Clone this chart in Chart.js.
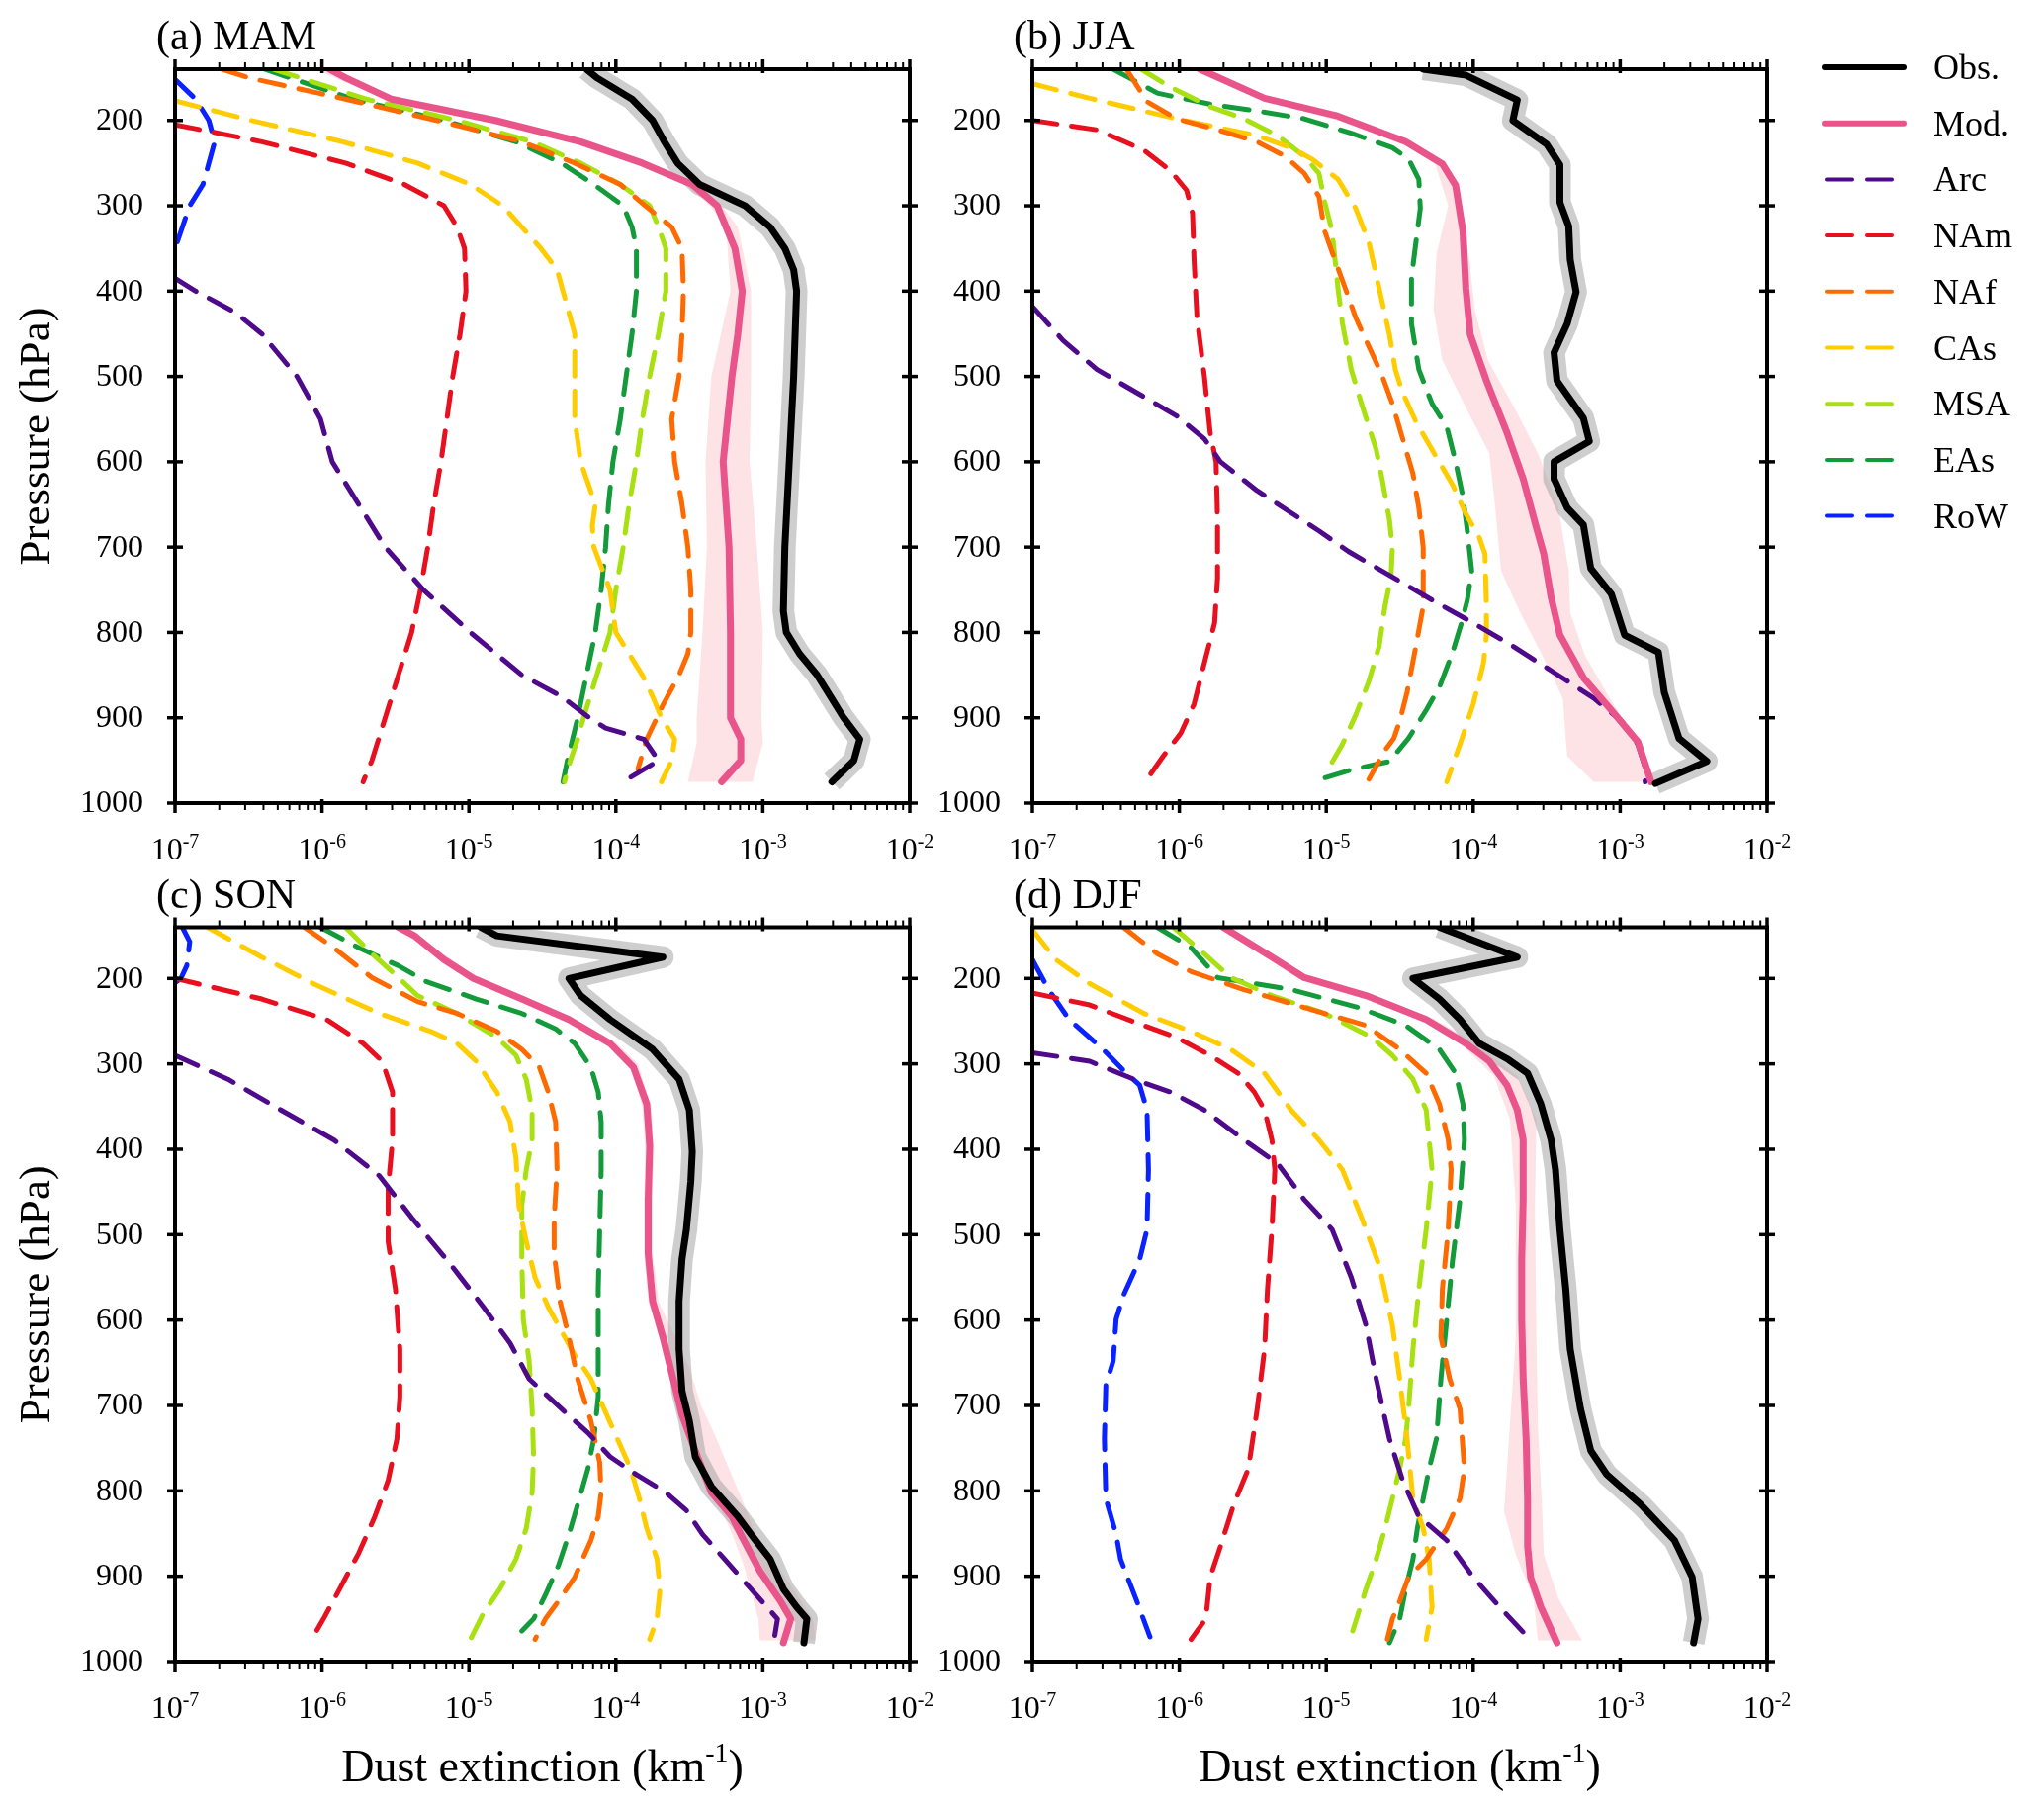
<!DOCTYPE html>
<html>
<head>
<meta charset="utf-8">
<script src="https://cdn.jsdelivr.net/npm/chart.js@4.4.1/dist/chart.umd.min.js"></script>
<style>
  html, body { margin: 0; padding: 0; background: #fff; }
  body { width: 2067px; height: 1829px; position: relative; overflow: hidden; }
  canvas { position: absolute; }
  #legend { position: absolute; left: 0; top: 0; }
</style>
</head>
<body>
<canvas id="mam" width="1000" height="870" style="left:0;top:0"></canvas>
<canvas id="jja" width="900" height="870" style="left:940px;top:0"></canvas>
<canvas id="son" width="1000" height="959" style="left:0;top:870px"></canvas>
<canvas id="djf" width="900" height="959" style="left:940px;top:870px"></canvas>
<svg id="legend" width="2067" height="600"></svg>
<script>
// every profile point is [pressure (hPa), log10 of dust extinction (km-1)]
// band points are [pressure, log10 lower edge, log10 upper edge]

const sourceNames = ["Arc", "NAm", "NAf", "CAs", "MSA", "EAs", "RoW"];
const xTickExponents = [-7, -6, -5, -4, -3, -2];
const pressureTicks = [200, 300, 400, 500, 600, 700, 800, 900, 1000];

// (a) MAM
const mamObs = [[140,-4.20],[150,-4.13],[175,-3.89],[200,-3.75],[225,-3.67],[250,-3.58],[275,-3.43],[300,-3.12],[325,-2.95],[350,-2.85],[375,-2.79],[400,-2.77],[500,-2.79],[600,-2.82],[700,-2.85],[775,-2.86],[800,-2.84],[825,-2.75],[850,-2.63],[875,-2.54],[900,-2.45],[925,-2.34],[950,-2.38],[975,-2.53]];
const mamMod = [[140,-5.95],[150,-5.84],[175,-5.53],[200,-4.82],[225,-4.24],[250,-3.82],[275,-3.48],[300,-3.31],[350,-3.19],[400,-3.14],[450,-3.17],[500,-3.21],[600,-3.27],[700,-3.23],[800,-3.22],[900,-3.22],[925,-3.15],[950,-3.15],[975,-3.28]];
const mamModRange = [[140,-6.05,-5.93],[175,-5.57,-5.48],[200,-4.86,-4.77],[225,-4.28,-4.20],[250,-3.88,-3.79],[275,-3.53,-3.44],[300,-3.36,-3.28],[325,-3.25,-3.17],[400,-3.22,-3.08],[500,-3.35,-3.08],[600,-3.39,-3.09],[700,-3.38,-3.04],[800,-3.41,-3.00],[900,-3.45,-3.01],[930,-3.45,-3.00],[975,-3.51,-3.07]];
const mamArc = [[385,-7],[400,-6.86],[425,-6.59],[450,-6.41],[500,-6.17],[550,-6.01],[600,-5.93],[650,-5.75],[700,-5.57],[750,-5.31],[800,-4.99],[850,-4.64],[875,-4.37],[900,-4.18],[912,-4.07],[925,-3.81],[950,-3.71],[975,-3.95]];
const mamNAm = [[205,-7],[225,-6.41],[250,-5.84],[275,-5.44],[300,-5.17],[325,-5.08],[350,-5.03],[400,-5.02],[450,-5.06],[500,-5.11],[550,-5.15],[600,-5.19],[650,-5.24],[700,-5.28],[750,-5.33],[800,-5.39],[850,-5.48],[900,-5.57],[950,-5.66],[975,-5.72]];
const mamNAf = [[140,-6.68],[150,-6.50],[175,-5.84],[200,-5.22],[225,-4.64],[250,-4.28],[275,-3.97],[300,-3.80],[325,-3.62],[350,-3.55],[400,-3.54],[450,-3.55],[500,-3.57],[550,-3.62],[600,-3.60],[650,-3.55],[700,-3.51],[750,-3.49],[800,-3.49],[825,-3.51],[850,-3.57],[885,-3.68],[925,-3.79],[960,-3.85]];
const mamCAs = [[177,-7],[200,-6.48],[225,-5.86],[250,-5.35],[275,-4.99],[300,-4.77],[325,-4.64],[350,-4.51],[375,-4.40],[400,-4.36],[450,-4.28],[550,-4.28],[600,-4.24],[650,-4.14],[675,-4.16],[700,-4.15],[750,-4.04],[800,-4.00],[825,-3.91],[850,-3.82],[875,-3.75],[900,-3.69],[925,-3.60],[950,-3.62],[975,-3.69]];
const mamMSA = [[140,-6.33],[175,-5.70],[200,-5.08],[225,-4.57],[250,-4.24],[275,-3.97],[300,-3.77],[325,-3.71],[350,-3.66],[400,-3.66],[450,-3.71],[500,-3.77],[550,-3.82],[600,-3.86],[650,-3.91],[700,-3.95],[750,-4.00],[800,-4.04],[850,-4.13],[900,-4.22],[925,-4.26],[950,-4.31],[975,-4.35]];
const mamEAs = [[140,-6.39],[175,-5.79],[200,-5.17],[225,-4.68],[250,-4.37],[275,-4.15],[300,-3.95],[325,-3.89],[350,-3.86],[400,-3.86],[450,-3.89],[500,-3.93],[550,-3.97],[600,-4.02],[650,-4.05],[700,-4.07],[750,-4.10],[800,-4.14],[850,-4.20],[900,-4.26],[950,-4.33],[975,-4.36]];
const mamRoW = [[152,-7],[175,-6.86],[200,-6.77],[225,-6.73],[250,-6.77],[275,-6.81],[300,-6.90],[335,-6.97],[350,-7]];

// (b) JJA
const jjaObs = [[140,-4.34],[147,-4.05],[176,-3.70],[200,-3.73],[228,-3.50],[252,-3.41],[296,-3.41],[324,-3.35],[363,-3.34],[401,-3.30],[438,-3.36],[472,-3.45],[505,-3.43],[549,-3.25],[576,-3.21],[600,-3.45],[620,-3.45],[654,-3.36],[674,-3.25],[725,-3.20],[755,-3.06],[803,-2.97],[823,-2.74],[870,-2.70],[924,-2.60],[951,-2.41],[977,-2.76]];
const jjaMod = [[140,-5.86],[174,-5.42],[195,-4.92],[225,-4.46],[251,-4.21],[276,-4.12],[330,-4.07],[397,-4.05],[451,-4.02],[505,-3.91],[566,-3.77],[620,-3.66],[671,-3.58],[708,-3.52],[759,-3.47],[803,-3.41],[853,-3.25],[891,-3.06],[928,-2.88],[975,-2.79]];
const jjaModRange = [[140,-5.87,-5.84],[175,-5.45,-5.38],[200,-4.92,-4.84],[225,-4.50,-4.42],[250,-4.26,-4.18],[300,-4.17,-4.09],[357,-4.25,-4.03],[421,-4.27,-3.99],[481,-4.21,-3.90],[540,-4.04,-3.71],[590,-3.89,-3.56],[654,-3.85,-3.42],[728,-3.81,-3.35],[777,-3.68,-3.34],[827,-3.53,-3.24],[877,-3.39,-3.07],[926,-3.37,-2.90],[945,-3.36,-2.85],[975,-3.18,-2.79]];
const jjaArc = [[418,-7],[458,-6.79],[492,-6.56],[519,-6.29],[546,-6.02],[573,-5.83],[600,-5.72],[634,-5.47],[681,-5.05],[705,-4.85],[735,-4.55],[762,-4.28],[789,-4.00],[816,-3.73],[847,-3.45],[877,-3.18],[904,-2.99],[931,-2.88],[958,-2.83],[975,-2.83]];
const jjaNAm = [[200,-7],[211,-6.56],[235,-6.24],[259,-6.06],[282,-5.95],[309,-5.91],[363,-5.90],[431,-5.88],[499,-5.83],[566,-5.79],[600,-5.75],[668,-5.74],[736,-5.74],[789,-5.76],[836,-5.83],[884,-5.90],[918,-5.99],[945,-6.11],[972,-6.22]];
const jjaNAf = [[140,-6.36],[178,-6.22],[198,-6.02],[211,-5.74],[225,-5.47],[242,-5.28],[262,-5.15],[289,-5.05],[330,-5.01],[364,-4.94],[397,-4.87],[431,-4.80],[465,-4.71],[499,-4.62],[532,-4.55],[573,-4.48],[614,-4.41],[654,-4.37],[701,-4.34],[769,-4.34],[816,-4.39],[870,-4.45],[904,-4.50],[924,-4.54],[938,-4.60],[972,-4.71]];
const jjaCAs = [[157,-7],[174,-6.61],[198,-6.02],[218,-5.47],[232,-5.24],[245,-5.10],[269,-4.92],[303,-4.80],[343,-4.71],[397,-4.64],[451,-4.57],[492,-4.53],[519,-4.48],[553,-4.39],[586,-4.28],[627,-4.14],[661,-4.05],[688,-3.96],[708,-3.92],[769,-3.91],[803,-3.91],[836,-3.93],[884,-4.00],[931,-4.09],[975,-4.18]];
const jjaMSA = [[140,-6.26],[161,-6.06],[184,-5.79],[198,-5.56],[218,-5.33],[242,-5.15],[262,-5.05],[296,-5.01],[330,-4.96],[364,-4.94],[397,-4.92],[438,-4.89],[492,-4.83],[532,-4.76],[559,-4.71],[586,-4.66],[620,-4.62],[668,-4.57],[701,-4.55],[735,-4.56],[769,-4.60],[816,-4.64],[857,-4.71],[897,-4.80],[931,-4.89],[961,-4.99]];
const jjaEAs = [[140,-6.45],[168,-6.15],[181,-5.79],[189,-5.47],[198,-5.15],[215,-4.83],[232,-4.55],[245,-4.44],[269,-4.37],[303,-4.36],[343,-4.39],[384,-4.42],[438,-4.42],[492,-4.37],[532,-4.28],[559,-4.18],[600,-4.12],[641,-4.07],[681,-4.04],[728,-4.01],[762,-4.04],[789,-4.08],[823,-4.14],[864,-4.23],[891,-4.32],[924,-4.44],[951,-4.57],[961,-4.83],[975,-5.10]];
const jjaRoW = [];

// (c) SON
const sonObs = [[140,-4.92],[150,-4.81],[175,-3.68],[200,-4.32],[220,-4.24],[248,-4.04],[283,-3.75],[318,-3.57],[354,-3.50],[403,-3.48],[438,-3.49],[494,-3.52],[529,-3.55],[578,-3.57],[634,-3.57],[683,-3.55],[718,-3.50],[760,-3.46],[795,-3.35],[830,-3.17],[851,-3.08],[880,-2.95],[915,-2.86],[936,-2.77],[950,-2.70],[978,-2.72]];
const sonMod = [[140,-5.48],[150,-5.37],[178,-5.17],[200,-4.97],[224,-4.64],[248,-4.32],[276,-4.04],[304,-3.88],[347,-3.79],[396,-3.77],[459,-3.78],[522,-3.78],[578,-3.75],[620,-3.68],[669,-3.61],[711,-3.55],[753,-3.46],[802,-3.35],[830,-3.21],[851,-3.15],[894,-3.02],[929,-2.88],[950,-2.81],[978,-2.86]];
const sonModRange = [[140,-5.50,-5.46],[175,-5.20,-5.14],[200,-4.99,-4.94],[225,-4.67,-4.61],[250,-4.35,-4.29],[275,-4.07,-4.00],[300,-3.91,-3.85],[350,-3.82,-3.76],[400,-3.80,-3.74],[460,-3.81,-3.75],[520,-3.81,-3.75],[578,-3.78,-3.71],[618,-3.71,-3.60],[656,-3.63,-3.50],[700,-3.54,-3.42],[733,-3.47,-3.33],[811,-3.31,-3.14],[850,-3.21,-3.05],[887,-3.13,-2.90],[950,-3.03,-2.66],[975,-3.02,-2.64]];
const sonArc = [[290,-7],[318,-6.64],[354,-6.28],[389,-5.92],[431,-5.61],[480,-5.39],[536,-5.12],[585,-4.90],[627,-4.72],[669,-4.59],[704,-4.37],[732,-4.19],[760,-4.04],[781,-3.86],[802,-3.66],[823,-3.52],[851,-3.41],[880,-3.26],[915,-3.08],[950,-2.90],[971,-2.92]];
const sonNAm = [[200,-7],[224,-6.41],[248,-5.97],[276,-5.72],[297,-5.59],[333,-5.52],[389,-5.52],[445,-5.55],[508,-5.55],[564,-5.50],[634,-5.47],[690,-5.47],[739,-5.49],[788,-5.55],[830,-5.64],[873,-5.75],[915,-5.88],[950,-5.99],[971,-6.06]];
const sonNAf = [[140,-6.12],[164,-5.92],[199,-5.66],[227,-5.35],[241,-5.08],[262,-4.81],[283,-4.64],[304,-4.52],[333,-4.46],[368,-4.41],[424,-4.40],[480,-4.42],[522,-4.42],[578,-4.38],[620,-4.32],[669,-4.26],[718,-4.17],[767,-4.11],[802,-4.10],[830,-4.12],[858,-4.17],[901,-4.28],[929,-4.39],[950,-4.48],[974,-4.55]];
const sonCAs = [[140,-6.78],[175,-6.41],[206,-6.06],[241,-5.61],[262,-5.26],[276,-5.08],[297,-4.95],[333,-4.81],[368,-4.72],[410,-4.68],[466,-4.66],[508,-4.61],[550,-4.55],[585,-4.46],[613,-4.37],[641,-4.28],[669,-4.17],[704,-4.08],[739,-3.99],[774,-3.90],[809,-3.84],[844,-3.79],[880,-3.72],[915,-3.70],[950,-3.72],[974,-3.77]];
const sonMSA = [[140,-5.84],[171,-5.66],[199,-5.48],[220,-5.35],[241,-5.08],[269,-4.81],[290,-4.68],[318,-4.61],[354,-4.57],[389,-4.57],[424,-4.61],[466,-4.64],[529,-4.64],[599,-4.63],[648,-4.59],[704,-4.57],[760,-4.56],[802,-4.57],[844,-4.61],[880,-4.68],[915,-4.79],[943,-4.90],[974,-4.99]];
const sonEAs = [[140,-6.01],[164,-5.75],[185,-5.48],[203,-5.30],[224,-4.95],[241,-4.64],[259,-4.41],[276,-4.28],[304,-4.17],[333,-4.12],[368,-4.10],[424,-4.10],[494,-4.11],[564,-4.12],[634,-4.12],[690,-4.12],[739,-4.15],[774,-4.19],[816,-4.26],[851,-4.32],[887,-4.39],[922,-4.48],[950,-4.56],[964,-4.64]];
const sonRoW = [[140,-6.95],[157,-6.90],[185,-6.92],[200,-6.96],[205,-7]];

// (d) DJF
const djfObs = [[140,-4.23],[175,-3.70],[200,-4.41],[224,-4.23],[248,-4.09],[276,-3.96],[294,-3.77],[311,-3.63],[347,-3.54],[389,-3.47],[424,-3.44],[494,-3.41],[564,-3.37],[634,-3.34],[704,-3.27],[753,-3.20],[781,-3.09],[816,-2.86],[858,-2.63],[901,-2.51],[950,-2.47],[978,-2.50]];
const djfMod = [[140,-5.70],[175,-5.37],[199,-5.15],[220,-4.73],[248,-4.32],[276,-4.05],[297,-3.89],[325,-3.77],[354,-3.70],[389,-3.66],[459,-3.66],[529,-3.67],[599,-3.67],[669,-3.66],[739,-3.64],[809,-3.63],[865,-3.63],[901,-3.61],[936,-3.54],[978,-3.43]];
const djfModRange = [[140,-5.74,-5.66],[175,-5.41,-5.33],[200,-5.19,-5.10],[220,-4.77,-4.68],[248,-4.36,-4.26],[276,-4.09,-3.98],[314,-3.86,-3.70],[365,-3.75,-3.57],[467,-3.71,-3.58],[620,-3.71,-3.57],[722,-3.75,-3.56],[824,-3.79,-3.53],[875,-3.71,-3.52],[926,-3.59,-3.42],[975,-3.56,-3.26]];
const djfArc = [[287,-7],[297,-6.61],[318,-6.31],[333,-6.06],[354,-5.83],[389,-5.56],[417,-5.33],[459,-5.15],[494,-4.96],[550,-4.83],[606,-4.73],[669,-4.66],[739,-4.57],[788,-4.48],[830,-4.37],[858,-4.18],[901,-4.00],[936,-3.82],[971,-3.63]];
const djfNAm = [[217,-7],[231,-6.61],[252,-6.29],[269,-6.02],[290,-5.79],[311,-5.60],[333,-5.49],[354,-5.42],[389,-5.37],[424,-5.35],[494,-5.37],[564,-5.40],[634,-5.42],[704,-5.47],[774,-5.53],[816,-5.63],[865,-5.72],[901,-5.79],[950,-5.82],[974,-5.92]];
const djfNAf = [[140,-6.38],[171,-6.15],[192,-5.92],[213,-5.56],[234,-5.15],[255,-4.73],[283,-4.50],[311,-4.32],[347,-4.23],[389,-4.17],[424,-4.15],[494,-4.17],[564,-4.21],[620,-4.22],[669,-4.16],[704,-4.09],[774,-4.06],[809,-4.09],[844,-4.18],[880,-4.32],[901,-4.44],[929,-4.50],[950,-4.55],[978,-4.59]];
const djfCAs = [[143,-7],[178,-6.84],[206,-6.61],[241,-6.24],[262,-5.92],[283,-5.65],[311,-5.42],[354,-5.24],[389,-5.05],[424,-4.89],[480,-4.76],[536,-4.64],[606,-4.55],[669,-4.50],[739,-4.45],[809,-4.41],[844,-4.34],[880,-4.30],[936,-4.28],[974,-4.32]];
const djfMSA = [[140,-6.04],[171,-5.83],[199,-5.65],[220,-5.37],[241,-5.01],[269,-4.69],[290,-4.55],[318,-4.41],[354,-4.32],[389,-4.30],[424,-4.28],[494,-4.32],[564,-4.37],[634,-4.41],[704,-4.44],[739,-4.46],[774,-4.50],[809,-4.55],[844,-4.60],[880,-4.66],[915,-4.73],[964,-4.82]];
const djfEAs = [[140,-6.15],[164,-5.92],[199,-5.74],[213,-5.24],[234,-4.78],[255,-4.46],[283,-4.23],[311,-4.12],[347,-4.07],[389,-4.06],[459,-4.09],[529,-4.14],[599,-4.18],[669,-4.22],[739,-4.25],[774,-4.30],[809,-4.34],[844,-4.38],[880,-4.41],[915,-4.46],[950,-4.50],[978,-4.57]];
const djfRoW = [[178,-7],[213,-6.89],[248,-6.75],[283,-6.52],[311,-6.36],[325,-6.27],[354,-6.22],[424,-6.21],[494,-6.22],[529,-6.27],[571,-6.38],[599,-6.43],[648,-6.45],[676,-6.50],[739,-6.51],[809,-6.50],[851,-6.43],[880,-6.40],[929,-6.29],[971,-6.20]];

const sourceColors = ["#4e0a8a", "#e8101f", "#ff6a00", "#ffcc00", "#a8e010", "#139a3a", "#0a22ff"];
const obsColor = "#000000";
const obsShade = "rgba(165,165,165,0.55)";
const modColor = "#e9558b";
const modShade = "#fde3e6";
const serif = '"Liberation Serif", "Times New Roman", serif';

const panels = [
  { id: "mam", title: "(a) MAM", obs: mamObs, mod: mamMod, range: mamModRange,
    sources: [mamArc, mamNAm, mamNAf, mamCAs, mamMSA, mamEAs, mamRoW],
    pad: { left: 177, right: 80, top: 70, bottom: 58 }, yTitle: true, xTitle: false },
  { id: "jja", title: "(b) JJA", obs: jjaObs, mod: jjaMod, range: jjaModRange,
    sources: [jjaArc, jjaNAm, jjaNAf, jjaCAs, jjaMSA, jjaEAs, jjaRoW],
    pad: { left: 104, right: 53, top: 70, bottom: 58 }, yTitle: false, xTitle: false },
  { id: "son", title: "(c) SON", obs: sonObs, mod: sonMod, range: sonModRange,
    sources: [sonArc, sonNAm, sonNAf, sonCAs, sonMSA, sonEAs, sonRoW],
    pad: { left: 177, right: 80, top: 67.5, bottom: 149 }, yTitle: true, xTitle: true },
  { id: "djf", title: "(d) DJF", obs: djfObs, mod: djfMod, range: djfModRange,
    sources: [djfArc, djfNAm, djfNAf, djfCAs, djfMSA, djfEAs, djfRoW],
    pad: { left: 104, right: 53, top: 67.5, bottom: 149 }, yTitle: false, xTitle: true }
];

function toPoints(pairs) {
  return pairs.map(([p, e]) => ({ x: Math.pow(10, e), y: p }));
}

function bandPoints(range) {
  const down = range.map(r => ({ x: Math.pow(10, r[1]), y: r[0] }));
  const up = range.slice().reverse().map(r => ({ x: Math.pow(10, r[2]), y: r[0] }));
  return down.concat(up);
}

function drawTick(ctx, x1, y1, x2, y2, w) {
  ctx.lineWidth = w;
  ctx.beginPath();
  ctx.moveTo(x1, y1);
  ctx.lineTo(x2, y2);
  ctx.stroke();
}

// frame, ticks, labels and titles in the style of the figure
const framePlugin = {
  id: "frame",
  afterDraw(chart, args, opts) {
    const { ctx, chartArea: a } = chart;
    const xs = chart.scales.x, ys = chart.scales.y;
    ctx.save();
    ctx.strokeStyle = "#000";
    ctx.fillStyle = "#000";
    ctx.lineCap = "butt";

    xTickExponents.forEach((e, i) => {
      const px = xs.getPixelForValue(Math.pow(10, e));
      drawTick(ctx, px, a.bottom - 4, px, a.bottom + 10, 3.5);
      drawTick(ctx, px, a.top + 4, px, a.top - 10, 3.5);
      if (i < xTickExponents.length - 1) {
        for (let k = 2; k <= 9; k++) {
          const mx = xs.getPixelForValue(k * Math.pow(10, e));
          drawTick(ctx, mx, a.bottom, mx, a.bottom + 7, 2);
          drawTick(ctx, mx, a.top, mx, a.top - 7, 2);
        }
      }
      // 10 with superscript exponent
      ctx.font = "32px " + serif;
      const w1 = ctx.measureText("10").width;
      ctx.font = "20px " + serif;
      const sup = String(e);
      const w2 = ctx.measureText(sup).width;
      const x0 = px - (w1 + w2) / 2;
      ctx.textAlign = "left";
      ctx.textBaseline = "alphabetic";
      ctx.font = "32px " + serif;
      ctx.fillText("10", x0, a.bottom + 57);
      ctx.font = "20px " + serif;
      ctx.fillText(sup, x0 + w1, a.bottom + 45);
    });

    ctx.font = "32px " + serif;
    ctx.textAlign = "right";
    ctx.textBaseline = "middle";
    pressureTicks.forEach(p => {
      const py = ys.getPixelForValue(p);
      drawTick(ctx, a.left - 8, py, a.left + 8, py, 3.5);
      drawTick(ctx, a.right - 8, py, a.right + 8, py, 3.5);
      ctx.fillText(String(p), a.left - 32, py + 1);
    });

    ctx.lineWidth = 4;
    ctx.strokeRect(a.left, a.top, a.right - a.left, a.bottom - a.top);

    ctx.textAlign = "left";
    ctx.textBaseline = "alphabetic";
    ctx.font = "42px " + serif;
    ctx.fillText(opts.title, a.left - 19, a.top - 20);

    if (opts.yTitle) {
      ctx.save();
      ctx.translate(a.left - 127, (a.top + a.bottom) / 2);
      ctx.rotate(-Math.PI / 2);
      ctx.textAlign = "center";
      ctx.font = "45px " + serif;
      ctx.fillText("Pressure (hPa)", 0, 0);
      ctx.restore();
    }

    if (opts.xTitle) {
      const main = "Dust extinction (km", sup = "-1", close = ")";
      ctx.font = "46px " + serif;
      const wm = ctx.measureText(main).width;
      const wc = ctx.measureText(close).width;
      ctx.font = "28px " + serif;
      const ws = ctx.measureText(sup).width;
      const x = (a.left + a.right) / 2 - (wm + ws + wc) / 2;
      const base = a.bottom + 121;
      ctx.font = "46px " + serif;
      ctx.fillText(main, x, base);
      ctx.font = "28px " + serif;
      ctx.fillText(sup, x + wm, base - 20);
      ctx.font = "46px " + serif;
      ctx.fillText(close, x + wm + ws, base);
    }
    ctx.restore();
  }
};

panels.forEach(panel => {
  const datasets = [];
  datasets.push({
    label: "Obs.", data: toPoints(panel.obs), order: 0,
    borderColor: obsColor, borderWidth: 7, borderJoinStyle: "round", borderCapStyle: "round"
  });
  datasets.push({
    label: "Mod.", data: toPoints(panel.mod), order: 1,
    borderColor: modColor, borderWidth: 7, borderJoinStyle: "round", borderCapStyle: "round"
  });
  panel.sources.forEach((s, i) => {
    datasets.push({
      label: sourceNames[i], data: toPoints(s), order: 2 + i,
      borderColor: sourceColors[i], borderWidth: 5, borderDash: [25, 15],
      borderCapStyle: "round", borderJoinStyle: "round"
    });
  });
  datasets.push({
    label: "Obs. spread", data: toPoints(panel.obs), order: 20,
    borderColor: obsShade, borderWidth: 22, borderJoinStyle: "round", borderCapStyle: "butt"
  });
  datasets.push({
    label: "Mod. range", data: bandPoints(panel.range), order: 21,
    borderColor: "rgba(0,0,0,0)", borderWidth: 1, backgroundColor: modShade, fill: "shape"
  });
  datasets.forEach(d => { d.showLine = true; d.pointRadius = 0; d.tension = 0; d.clip = 0; });

  new Chart(document.getElementById(panel.id), {
    type: "scatter",
    data: { datasets: datasets },
    options: {
      responsive: false,
      animation: false,
      devicePixelRatio: 1,
      layout: { padding: panel.pad },
      plugins: {
        legend: { display: false },
        tooltip: { enabled: false },
        frame: { title: panel.title, yTitle: panel.yTitle, xTitle: panel.xTitle }
      },
      scales: {
        x: { type: "logarithmic", min: 1e-7, max: 1e-2, display: false },
        y: { type: "linear", min: 140, max: 1000, reverse: true, display: false }
      }
    },
    plugins: [framePlugin]
  });
});

// legend to the right of panel (b)
const legendNames = ["Obs.", "Mod."].concat(sourceNames);
const legendColors = [obsColor, modColor].concat(sourceColors);
let svg = "";
legendNames.forEach((name, i) => {
  const y = 68 + i * 56.7;
  if (i < 2) {
    svg += `<line x1="1846" y1="${y}" x2="1925" y2="${y}" stroke="${legendColors[i]}" stroke-width="6" stroke-linecap="round"/>`;
  } else {
    svg += `<line x1="1848" y1="${y}" x2="1913" y2="${y}" stroke="${legendColors[i]}" stroke-width="4" stroke-linecap="round" stroke-dasharray="25 15"/>`;
  }
  svg += `<text x="1955" y="${y + 12}" font-family='"Liberation Serif", serif' font-size="36" fill="#000">${name}</text>`;
});
document.getElementById("legend").innerHTML = svg;
</script>
</body>
</html>
